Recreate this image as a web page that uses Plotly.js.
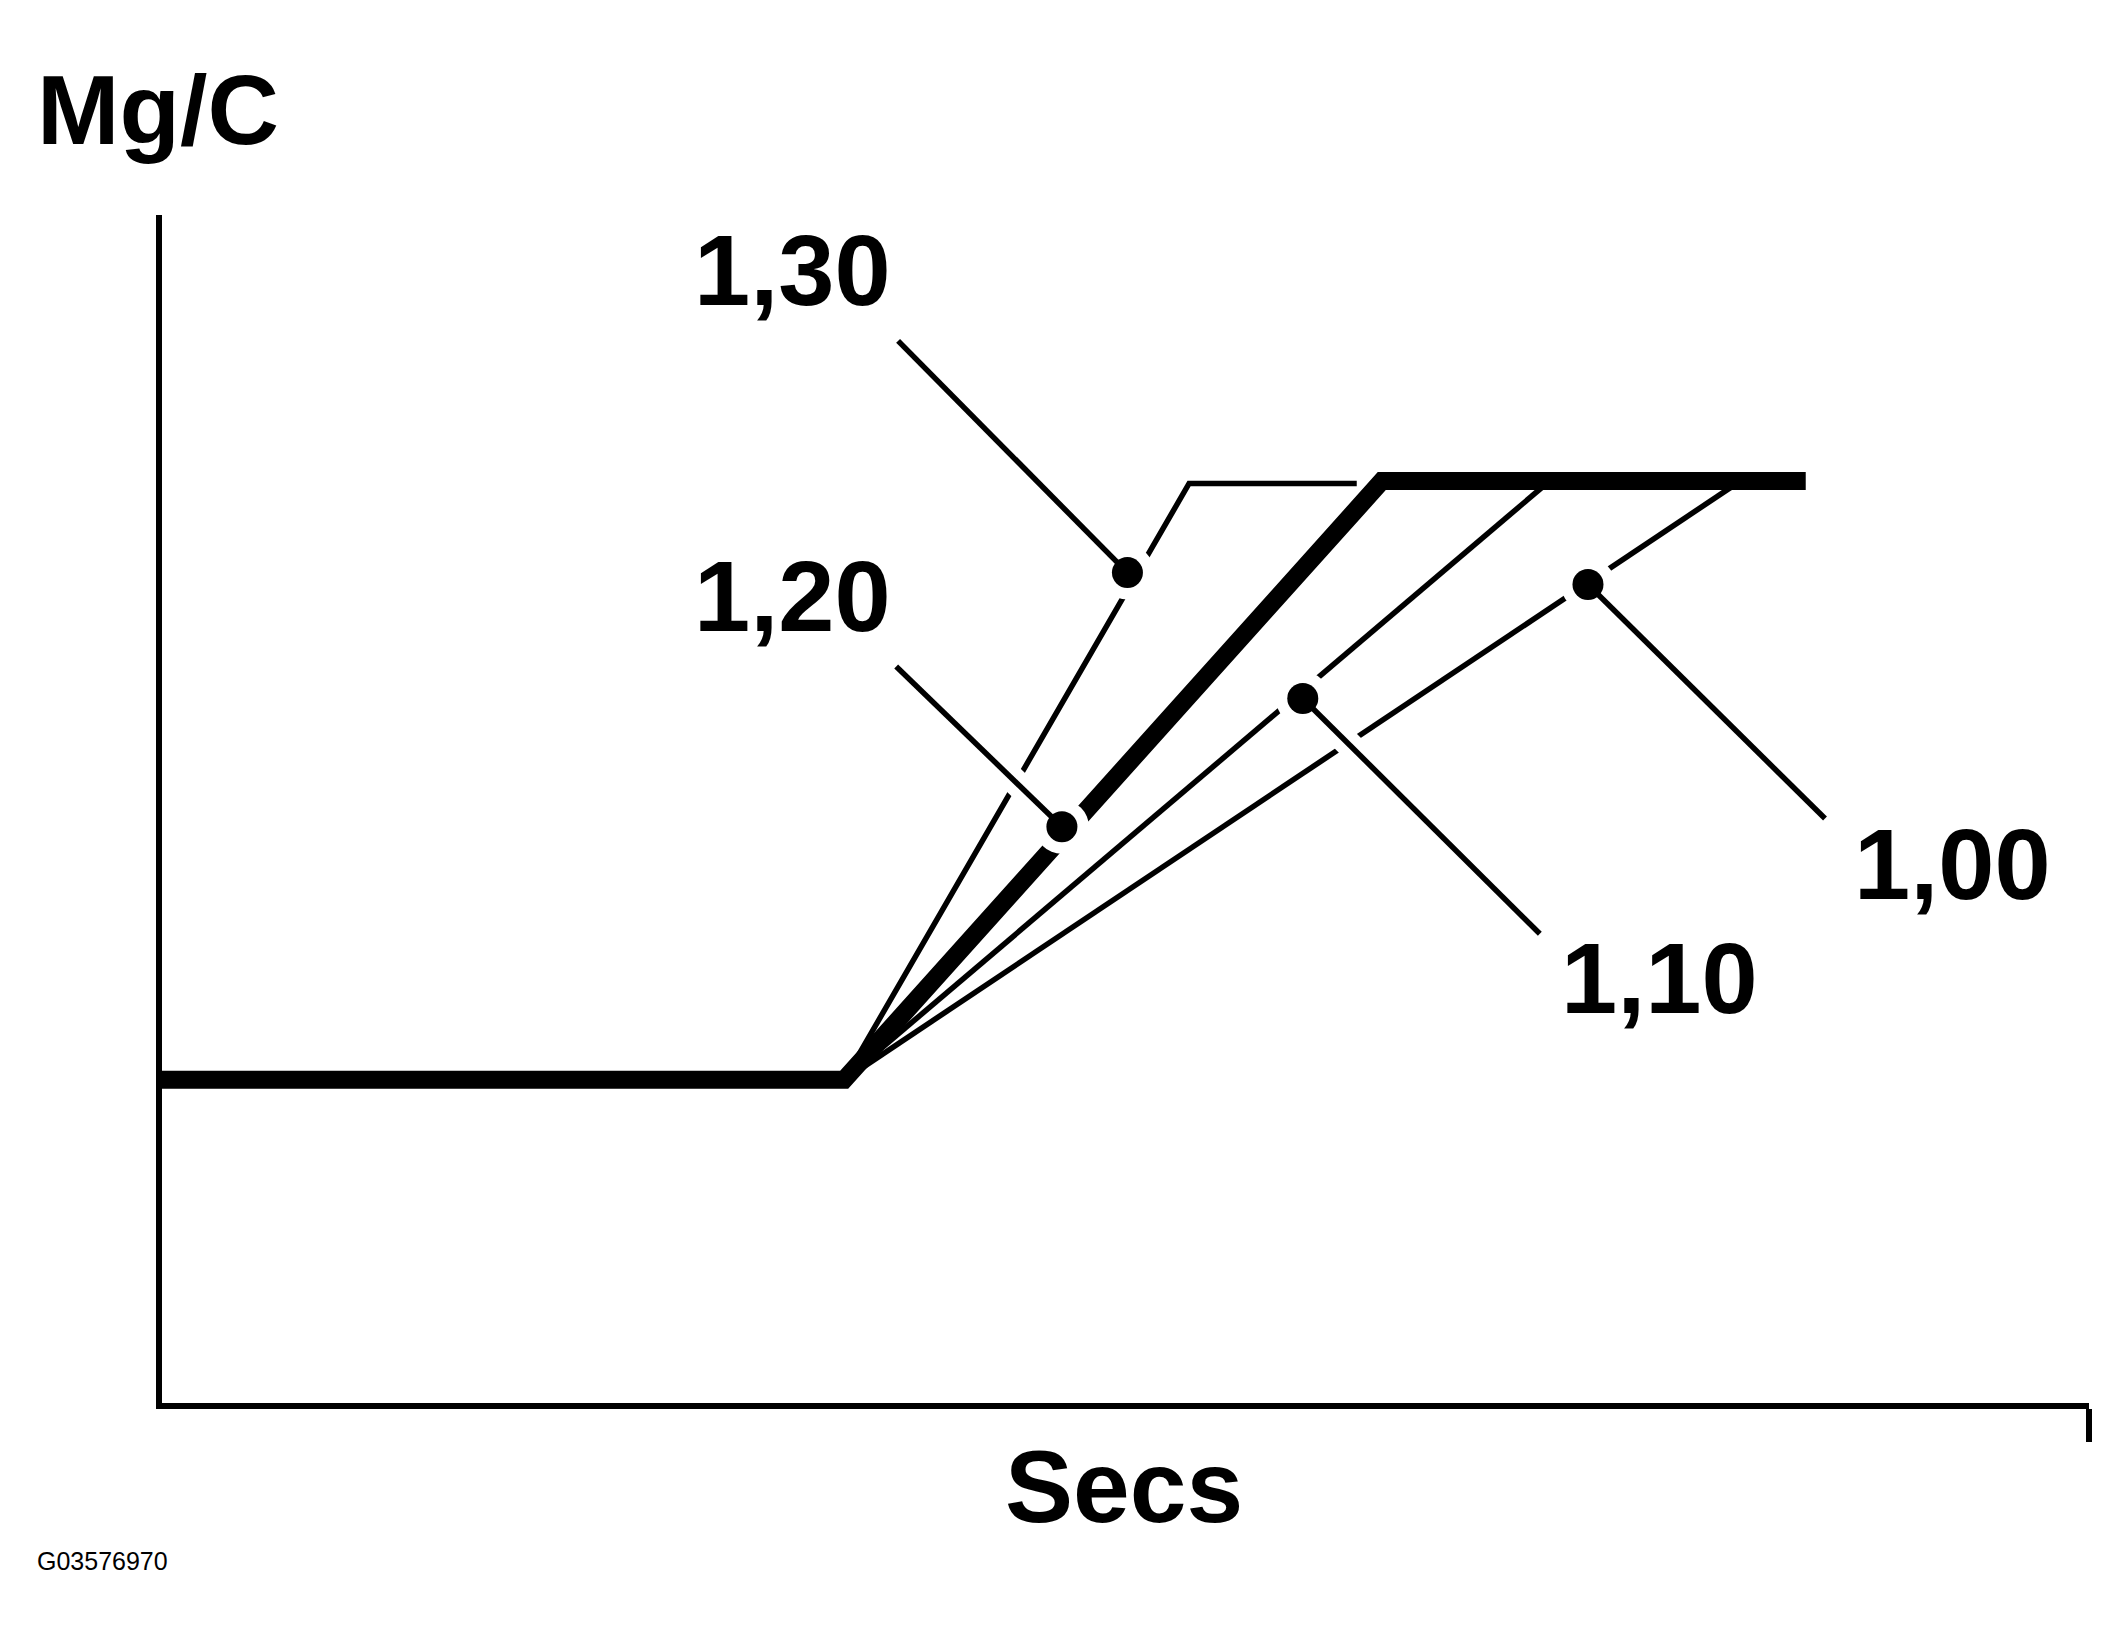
<!DOCTYPE html>
<html>
<head>
<meta charset="utf-8">
<script src="https://cdn.plot.ly/plotly-3.0.1.min.js"></script>
<style>
  html, body { margin: 0; padding: 0; background: #ffffff; }
  #chart { width: 2124px; height: 1645px; }
</style>
</head>
<body>
<div id="chart"></div>
<script>
// ---- Data (arbitrary units: x = time, y = Mg/C) ----
const curveLabels = ['1,30', '1,20', '1,10', '1,00'];

const curve130X = [35.4, 53.3, 62.0];
const curve130Y = [27.2, 77.4, 77.4];

const curve120X = [0, 35.4, 63.3, 85.3];
const curve120Y = [27.2, 27.2, 77.6, 77.6];

const curve110X = [35.4, 72.0];
const curve110Y = [27.2, 77.6];

const curve100X = [35.4, 81.9];
const curve100Y = [27.2, 77.6];

// marker dots on each curve (order follows curveLabels)
const dotX = [50.1, 46.7, 59.2, 74.0];
const dotY = [69.9, 48.5, 59.3, 68.9];

// free end of each leader line
const leaderEndX = [38.2, 38.1, 71.5, 86.3];
const leaderEndY = [89.4, 62.0, 39.5, 49.2];

// label positions
const labelX = [32.7, 32.7, 77.7, 92.9];
const labelY = [95.4, 67.9, 35.8, 45.4];

const yAxisTitle = 'Mg/C';
const xAxisTitle = 'Secs';
const figureCode = 'G03576970';

// ---- Build traces ----
const FONT = 'Liberation Sans, Arial, Helvetica, sans-serif';
const BLACK = '#000000';
const WHITE = '#ffffff';

function lineTrace(x, y, width, color) {
  return {
    type: 'scatter', mode: 'lines', x: x, y: y,
    line: { color: color, width: width, shape: 'linear' },
    hoverinfo: 'skip', showlegend: false, cliponaxis: false
  };
}

const leaderX = [];
const leaderY = [];
for (let i = 0; i < dotX.length; i++) {
  leaderX.push(leaderEndX[i], dotX[i], null);
  leaderY.push(leaderEndY[i], dotY[i], null);
}

const traces = [
  lineTrace(curve130X, curve130Y, 5.5, BLACK),
  lineTrace(curve110X, curve110Y, 5.5, BLACK),
  lineTrace(curve100X, curve100Y, 5.5, BLACK),
  lineTrace(curve120X, curve120Y, 18, BLACK),
  // white halo under leader lines
  lineTrace(leaderX, leaderY, 26, WHITE),
  // white halo around dots
  {
    type: 'scatter', mode: 'markers', x: dotX, y: dotY,
    marker: { color: WHITE, size: 54, line: { width: 0 } },
    hoverinfo: 'skip', showlegend: false, cliponaxis: false
  },
  lineTrace(leaderX, leaderY, 5.5, BLACK),
  {
    type: 'scatter', mode: 'markers', x: dotX, y: dotY,
    marker: { color: BLACK, size: 31, line: { width: 0 } },
    hoverinfo: 'skip', showlegend: false, cliponaxis: false
  }
];

// ---- Annotations ----
const annotations = [];
for (let i = 0; i < curveLabels.length; i++) {
  annotations.push({
    text: curveLabels[i], x: labelX[i], y: labelY[i], xref: 'x', yref: 'y',
    xanchor: 'center', yanchor: 'middle', showarrow: false,
    font: { family: FONT, size: 101, color: BLACK, weight: 700 }
  });
}
annotations.push({
  text: yAxisTitle, x: -0.002, y: 1.089, xref: 'paper', yref: 'paper',
  xanchor: 'center', yanchor: 'middle', showarrow: false,
  font: { family: FONT, size: 99, color: BLACK, weight: 700 }
});
annotations.push({
  text: xAxisTitle, x: 0.499, y: -0.0707, xref: 'paper', yref: 'paper',
  xanchor: 'center', yanchor: 'middle', showarrow: false,
  font: { family: FONT, size: 102, color: BLACK, weight: 700 }
});
annotations.push({
  text: figureCode, x: -0.031, y: -0.133, xref: 'paper', yref: 'paper',
  xanchor: 'center', yanchor: 'middle', showarrow: false,
  font: { family: FONT, size: 25, color: BLACK }
});

const layout = {
  width: 2124, height: 1645, autosize: false,
  margin: { l: 162, r: 35, t: 215, b: 242, pad: 0 },
  paper_bgcolor: WHITE, plot_bgcolor: WHITE,
  showlegend: false,
  xaxis: {
    range: [0, 100], showgrid: false, zeroline: false,
    showline: true, linecolor: BLACK, linewidth: 6,
    ticks: 'outside', tickvals: [100], ticklen: 33, tickwidth: 6, tickcolor: BLACK,
    showticklabels: false, fixedrange: true
  },
  yaxis: {
    range: [0, 100], showgrid: false, zeroline: false,
    showline: true, linecolor: BLACK, linewidth: 6,
    ticks: '', showticklabels: false, fixedrange: true
  },
  annotations: annotations
};

Plotly.newPlot('chart', traces, layout, { staticPlot: true, displayModeBar: false });
</script>
</body>
</html>
